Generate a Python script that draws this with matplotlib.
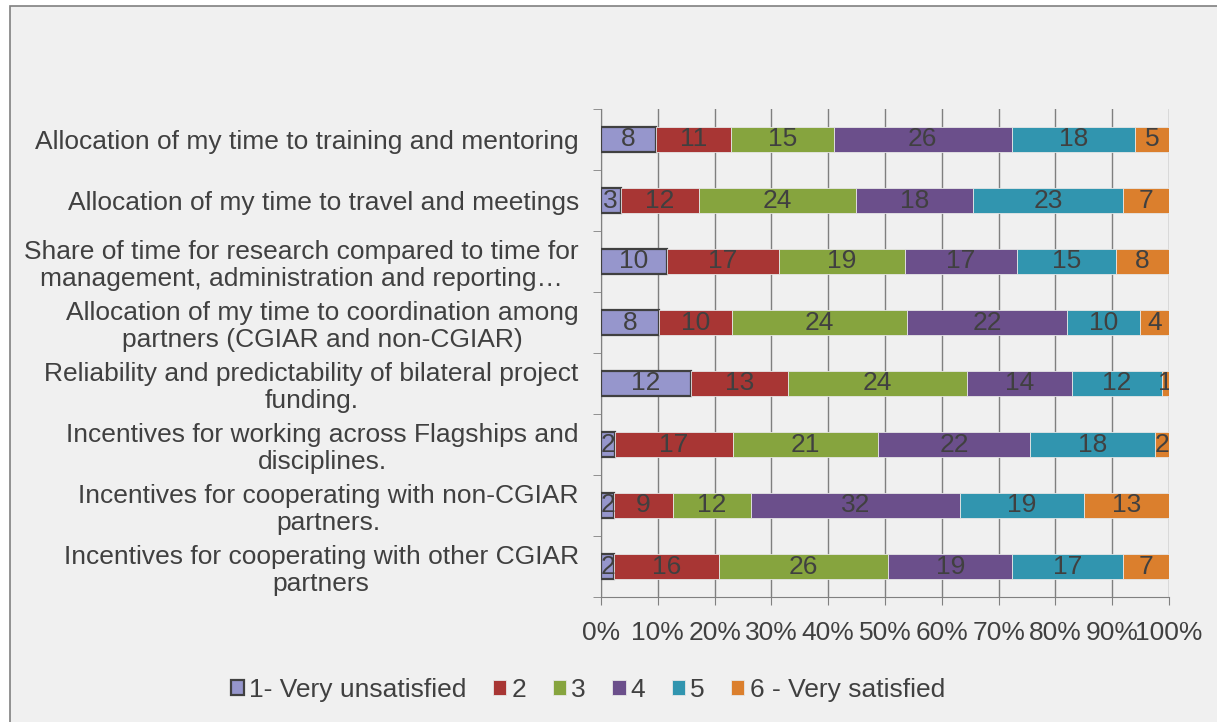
import numpy as np
import matplotlib.pyplot as plt
from matplotlib.patches import Rectangle

# categories, top to bottom as shown
labels = [
    "Allocation of my time to training and mentoring",
    "Allocation of my time to travel and meetings",
    "Share of time for research compared to time for\nmanagement, administration and reporting…",
    "Allocation of my time to coordination among\npartners (CGIAR and non-CGIAR)",
    "Reliability and predictability of bilateral project\nfunding.",
    "Incentives for working across Flagships and\ndisciplines.",
    "Incentives for cooperating with non-CGIAR\npartners.",
    "Incentives for cooperating with other CGIAR\npartners",
]

series_names = ["1- Very unsatisfied", "2", "3", "4", "5", "6 - Very satisfied"]
s1 = [8, 3, 10, 8, 12, 2, 2, 2]
s2 = [11, 12, 17, 10, 13, 17, 9, 16]
s3 = [15, 24, 19, 24, 24, 21, 12, 26]
s4 = [26, 18, 17, 22, 14, 22, 32, 19]
s5 = [18, 23, 15, 10, 12, 18, 19, 17]
s6 = [5, 7, 8, 4, 1, 2, 13, 7]

colors = ["#9696CC", "#A83634", "#86A43E", "#6B4F8B", "#3195AF", "#DB7F2D"]

counts = np.array([s1, s2, s3, s4, s5, s6], dtype=float)
share = counts / counts.sum(axis=0) * 100

fam = ["Liberation Sans", "DejaVu Sans"]
txt_col = "#404040"

fig = plt.figure(figsize=(12.17, 7.22), dpi=100)
fig.patch.set_facecolor("white")

# chart area frame
fig.patches.append(Rectangle((10 / 1217, -0.05), 1.1, 1 - 6 / 722 + 0.05,
                             transform=fig.transFigure, facecolor="#F0F0F0",
                             edgecolor="#808080", linewidth=1.2, zorder=-5))

ax = fig.add_axes([601 / 1217, 1 - 597 / 722, (1169 - 601) / 1217, (597 - 109) / 722])
ax.set_facecolor("none")

y = np.arange(len(labels))
left = np.zeros(len(labels))
for k in range(6):
    ec = "#404040" if k == 0 else "#E6E6E6"
    lw = 1.6 if k == 0 else 0.6
    ax.barh(y, share[k], left=left, height=0.4, color=colors[k], edgecolor=ec,
            linewidth=lw, label=series_names[k], zorder=3)
    for i in range(len(labels)):
        ax.text(left[i] + share[k][i] / 2, y[i], "%d" % counts[k][i],
                ha="center", va="center", fontsize=19, color=txt_col,
                family=fam, zorder=4, clip_on=True)
    left += share[k]

ax.set_ylim(len(labels) - 0.5, -0.5)
ax.set_xlim(0, 100)
ax.set_xticks(np.arange(0, 101, 10))
ax.set_xticklabels(["%d%%" % v for v in range(0, 101, 10)], family=fam,
                   fontsize=19, color=txt_col)
ax.set_yticks(y)
ax.set_yticklabels(labels, family=fam, fontsize=19, color=txt_col,
                   multialignment="center", linespacing=1.15)
ax.tick_params(axis="y", length=0, pad=16)
ax.set_yticks(np.arange(-0.5, len(labels)), minor=True)
ax.tick_params(axis="y", which="minor", length=6, color="#808080")
ax.tick_params(axis="x", length=6, color="#808080", pad=11)

ax.grid(axis="x", color="#7F7F7F", linewidth=1, zorder=1)
for s in ["top", "right"]:
    ax.spines[s].set_visible(False)
for s in ["left", "bottom"]:
    ax.spines[s].set_color("#808080")

leg = ax.legend(loc="center", bbox_to_anchor=(588 / 1217, 1 - 690 / 722),
                bbox_transform=fig.transFigure, ncol=6, frameon=False,
                prop={"family": fam, "size": 19}, handlelength=0.5,
                handleheight=0.5, handletextpad=0.2, columnspacing=1.0)
for t in leg.get_texts():
    t.set_color(txt_col)

plt.savefig("out.png", dpi=100)
